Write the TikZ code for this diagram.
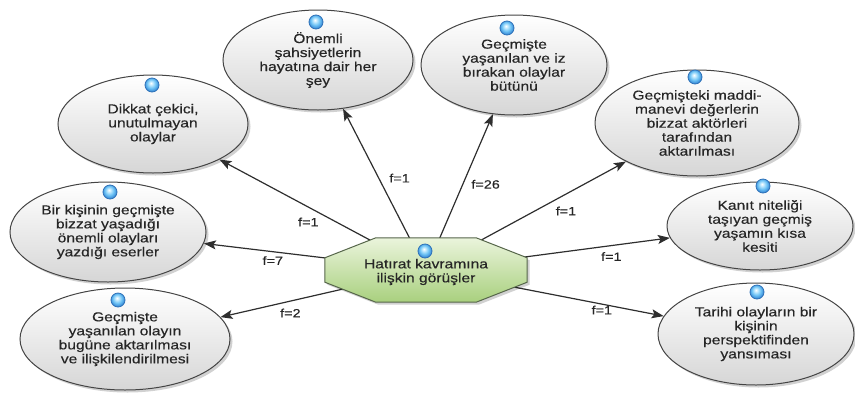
\documentclass[tikz,border=0pt]{standalone}
\usepackage{fontspec}
\setmainfont[FakeStretch=1.2,FakeBold=0.35]{Liberation Sans}
\usetikzlibrary{arrows.meta,shadows,shapes.geometric}
\definecolor{txt}{HTML}{262626}
\definecolor{ellline}{HTML}{444444}
\definecolor{ellbot}{HTML}{D6D6D6}
\definecolor{octtop}{HTML}{EAF4DC}
\definecolor{octbot}{HTML}{A9D07E}
\definecolor{octline}{HTML}{56664A}
\definecolor{conncol}{HTML}{2E2E2E}
\definecolor{ballhi}{HTML}{CFEFFF}
\definecolor{ballcol}{HTML}{6EC3F5}
\definecolor{ballmid}{HTML}{3D8ED8}
\definecolor{ballline}{HTML}{2F72B8}
\pgfdeclareradialshading{lightball}{\pgfpoint{-4bp}{7bp}}{color(0bp)=(white); color(5bp)=(ballhi); color(16bp)=(ballcol); color(25bp)=(ballmid); color(50bp)=(ballmid)}
\begin{document}
\begin{tikzpicture}[x=1pt,y=-1pt,
  font=\fontsize{13}{14}\selectfont,
  idea/.style={ellipse, draw=ellline, line width=1pt, top color=white, bottom color=ellbot,
    align=center, inner sep=0pt, text=txt,
    drop shadow={shadow xshift=2.5pt, shadow yshift=-2.5pt, opacity=0.18, fill=black}},
  octbox/.style={rectangle, minimum width=202pt, minimum height=64pt, inner sep=0pt},
  octfill/.style={draw=octline, line width=1pt, top color=octtop, bottom color=octbot,
    drop shadow={shadow xshift=2.5pt, shadow yshift=-2.5pt, opacity=0.18, fill=black}},
  conn/.style={draw=conncol, line width=1.2pt, -{Stealth[length=12pt,width=9pt,inset=2.5pt]}},
  lbl/.style={font=\fontsize{12}{13}\selectfont, text=txt, inner sep=0pt},
  ball/.style={circle, minimum size=14pt, inner sep=0pt, shading=lightball, draw=ballline, line width=0.8pt}
]
\useasboundingbox (0,0) rectangle (855,392);

% idea ellipses
\node[idea, minimum width=190pt, minimum height=98pt] (e1) at (153,124) {Dikkat çekici,\\unutulmayan\\olaylar};
\node[idea, minimum width=190pt, minimum height=100pt] (e2) at (318,60) {Önemli\\şahsiyetlerin\\hayatına dair her\\şey};
\node[idea, minimum width=186pt, minimum height=100pt] (e3) at (514,65) {Geçmişte\\yaşanılan ve iz\\bırakan olaylar\\bütünü};
\node[idea, minimum width=204pt, minimum height=106pt] (e4) at (697,123) {Geçmişteki maddi-\\manevi değerlerin\\bizzat aktörleri\\tarafından\\aktarılması};
\node[idea, minimum width=186pt, minimum height=88pt] (e5) at (760,226) {Kanıt niteliği\\taşıyan geçmiş\\yaşamın kısa\\kesiti};
\node[idea, minimum width=196pt, minimum height=102pt] (e6) at (756,334) {Tarihi olayların bir\\kişinin\\perspektifinden\\yansıması};
\node[idea, minimum width=196pt, minimum height=100pt] (e7) at (108,232) {Bir kişinin geçmişte\\bizzat yaşadığı\\önemli olayları\\yazdığı eserler};
\node[idea, minimum width=210pt, minimum height=102pt] (e8) at (125,339) {Geçmişte\\yaşanılan olayın\\bugüne aktarılması\\ve ilişkilendirilmesi};

% central node placeholder
\node[octbox] (oct) at (426,270) {};

% connectors
\draw[conn] (oct.center) -- (e1) node[lbl, pos=0.57, below=10pt] {f=1};
\draw[conn] (oct.center) -- (e2) node[lbl, pos=0.57, right=10pt] {f=1};
\draw[conn] (oct.center) -- (e3) node[lbl, pos=0.55, right=8pt] {f=26};
\draw[conn] (oct.center) -- (e4) node[lbl, pos=0.70, below=12pt] {f=1};
\draw[conn] (oct.center) -- (e5) node[lbl, pos=0.76, below=6pt] {f=1};
\draw[conn] (oct.center) -- (e6) node[lbl, pos=0.74, below=1pt] {f=1};
\draw[conn] (oct.center) -- (e7) node[lbl, pos=0.69, below=4pt] {f=7};
\draw[conn] (oct.center) -- (e8) node[lbl, pos=0.66, below=7pt] {f=2};

% octagon shape
\path[octfill] ([xshift=51pt]oct.north west) -- ([xshift=-51pt]oct.north east)
  -- ([yshift=-20pt]oct.north east) -- ([yshift=20pt]oct.south east)
  -- ([xshift=-51pt]oct.south east) -- ([xshift=51pt]oct.south west)
  -- ([yshift=20pt]oct.south west) -- ([yshift=-20pt]oct.north west) -- cycle;
\node[align=center, text=txt, inner sep=0pt] (octtext) at ([yshift=-2pt]oct.center) {Hatırat kavramına\\ilişkin görüşler};

% blue balls
\node[ball] (b1) at (152,85) {};
\node[ball] (b2) at (316,22) {};
\node[ball] (b3) at (507,28) {};
\node[ball] (b4) at (695,77) {};
\node[ball] (b5) at (763,186) {};
\node[ball] (b6) at (757,292) {};
\node[ball] (b7) at (110,192) {};
\node[ball] (b8) at (118,300) {};
\node[ball] (b9) at (425,251) {};
\end{tikzpicture}
\end{document}
